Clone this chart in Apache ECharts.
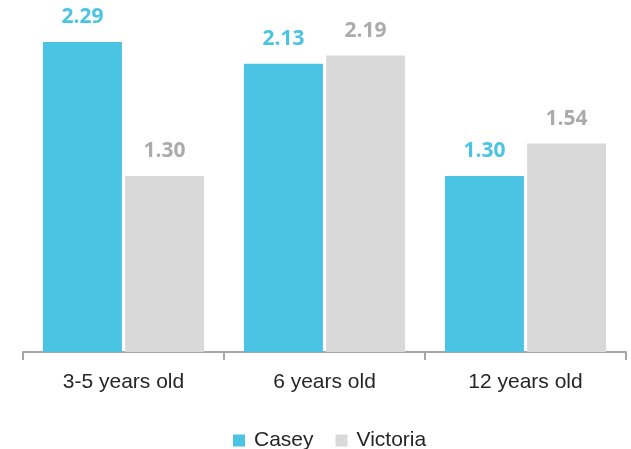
<!DOCTYPE html>
<html>
<head>
<meta charset="utf-8">
<script src="https://cdn.jsdelivr.net/npm/echarts@6/dist/echarts.min.js"></script>
<style>html,body{margin:0;padding:0;background:#fff}#c{width:631px;height:449px}</style>
</head>
<body>
<div id="c"></div>
<script>
const categories = ['3-5 years old', '6 years old', '12 years old'];
const casey = [2.29, 2.13, 1.30];
const victoria = [1.30, 2.19, 1.54];

const chart = echarts.init(document.getElementById('c'), null, {renderer: 'canvas'});
const font = 'Liberation Sans, Arial, sans-serif';
chart.setOption({
  animation: false,
  grid: {left: 23, right: 5, top: 0, bottom: 97},
  legend: {
    top: 425, left: 228,
    itemWidth: 12, itemHeight: 12, itemGap: 22,
    icon: 'rect',
    textStyle: {fontSize: 21, color: '#262626', fontFamily: font, padding: [0, 0, 0, 4]},
    data: ['Casey', 'Victoria']
  },
  xAxis: {
    type: 'category', data: categories,
    axisLine: {lineStyle: {color: '#A6A6A6', width: 2}},
    axisTick: {show: true, length: 8, lineStyle: {color: '#A6A6A6', width: 2}},
    axisLabel: {fontSize: 21, color: '#262626', fontFamily: font, margin: 20}
  },
  yAxis: {type: 'value', min: 0, max: 2.6, show: false, splitLine: {show: false}},
  series: [
    {
      name: 'Casey', type: 'bar', data: casey, barWidth: 79, barGap: '4%',
      itemStyle: {color: '#4BC4E3'},
      label: {show: true, position: 'top', distance: 14, formatter: p => p.value.toFixed(2),
        fontSize: 21, fontWeight: 'bold', color: '#4BC4E3', fontFamily: 'Open Sans, sans-serif'}
    },
    {
      name: 'Victoria', type: 'bar', data: victoria, barWidth: 79,
      itemStyle: {color: '#D9D9D9'},
      label: {show: true, position: 'top', distance: 14, formatter: p => p.value.toFixed(2),
        fontSize: 21, fontWeight: 'bold', color: '#ABABAB', fontFamily: 'Open Sans, sans-serif'}
    }
  ]
});
</script>
</body>
</html>
